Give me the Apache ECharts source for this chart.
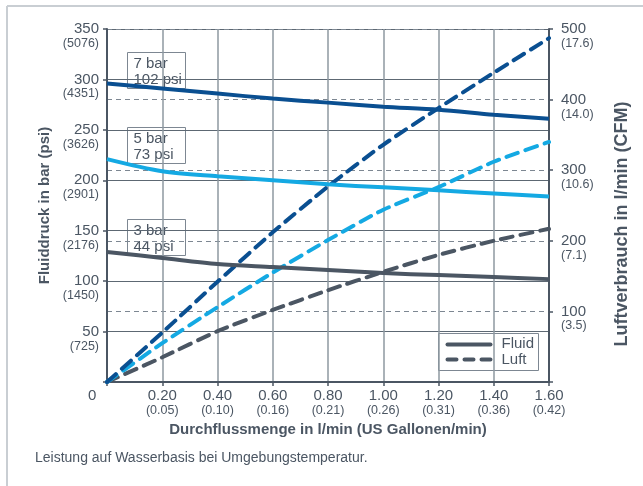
<!DOCTYPE html>
<html>
<head>
<meta charset="utf-8">
<script src="https://cdn.jsdelivr.net/npm/echarts@6/dist/echarts.min.js"></script>
<style>
  html, body { margin: 0; padding: 0; background: #fff; }
  #chart { width: 643px; height: 486px; }
</style>
</head>
<body>
<div id="chart"></div>
<script>
// Durchfluss (l/min) und Tick-Beschriftungen
var flow = [0, 0.2, 0.4, 0.6, 0.8, 1.0, 1.2, 1.4, 1.6];
var gallonLabels = ['', '(0.05)', '(0.10)', '(0.16)', '(0.21)', '(0.26)', '(0.31)', '(0.36)', '(0.42)'];
var psiLabels = ['', '(725)', '(1450)', '(2176)', '(2901)', '(3626)', '(4351)', '(5076)'];
var cfmLabels = ['', '(3.5)', '(7.1)', '(10.6)', '(14.0)', '(17.6)'];

// Fluiddruck in bar (linke Achse)
var fluid7 = [296, 291, 286, 281, 277, 273, 270, 265, 261];
var fluid5 = [221, 209, 204, 200, 196, 193, 190, 187, 184];
var fluid3 = [129, 123, 117, 114, 111, 108, 106, 104, 102];

// Luftverbrauch in l/min (rechte Achse)
var luft7 = [0, 70, 142, 212, 277, 336, 388, 438, 487];
var luft5 = [0, 55, 106, 155, 201, 244, 276, 312, 340];
var luft3 = [0, 35, 72, 102, 130, 156, 180, 200, 217];

var cNavy = '#0a4f91';
var cLight = '#14a9e3';
var cGray = '#4b5663';
var txt = '#4b5663';

function pairs(vals) {
  return flow.map(function (x, i) { return [x, vals[i]]; });
}

function fluidSeries(name, vals, color) {
  return {
    name: name, type: 'line', yAxisIndex: 0, data: pairs(vals),
    smooth: 0.3, symbol: 'none',
    lineStyle: { color: color, width: 4 }, z: 5
  };
}
function luftSeries(name, vals, color) {
  return {
    name: name, type: 'line', yAxisIndex: 1, data: pairs(vals),
    smooth: 0.2, symbol: 'none',
    lineStyle: { color: color, width: 4, type: [12, 8], cap: 'round' }, z: 4
  };
}

function box(x, y, l1, l2) {
  return {
    type: 'group', left: x, top: y, z: 20,
    children: [
      { type: 'rect', shape: { x: 0, y: 0, width: 58, height: 36 },
        style: { fill: '#fff', stroke: '#7d8792', lineWidth: 1 } },
      { type: 'text', left: 6, top: 3,
        style: { text: l1 + '\n' + l2, font: '15px "Liberation Sans", Arial', fill: txt, lineHeight: 16 } }
    ]
  };
}

var chart = echarts.init(document.getElementById('chart'));
chart.setOption({
  animation: false,
  backgroundColor: '#fff',
  textStyle: { fontFamily: '"Liberation Sans", Arial, sans-serif' },
  grid: { left: 107, right: 94, top: 29, bottom: 104 },
  xAxis: {
    type: 'value', min: 0, max: 1.6, interval: 0.2,
    name: 'Durchflussmenge in l/min (US Gallonen/min)',
    nameLocation: 'middle', nameGap: 36,
    nameTextStyle: { fontSize: 15, fontWeight: 'bold', color: txt },
    axisLine: { lineStyle: { color: cGray, width: 2 } },
    axisTick: { show: true, length: 4, lineStyle: { color: cGray, width: 1.5 } },
    axisLabel: {
      margin: 5,
      formatter: function (v) {
        var i = Math.round(v / 0.2);
        if (i === 0) return '';
        return '{a|' + v.toFixed(2) + '}\n{b|' + gallonLabels[i] + '}';
      },
      rich: {
        a: { fontSize: 15, color: txt, lineHeight: 17 },
        b: { fontSize: 12.5, color: txt, lineHeight: 13 }
      }
    },
    splitLine: { show: true, lineStyle: { color: '#8e98a1', width: 1.5 } }
  },
  yAxis: [
    {
      type: 'value', min: 0, max: 350, interval: 50, position: 'left',
      name: 'Fluiddruck in bar (psi)', nameLocation: 'middle', nameGap: 55,
      nameTextStyle: { fontSize: 15, fontWeight: 'bold', color: txt },
      axisLine: { show: true, lineStyle: { color: cGray, width: 2 } },
      axisTick: { show: true, length: 4, lineStyle: { color: cGray, width: 1.5 } },
      axisLabel: {
        margin: 8,
        formatter: function (v) {
          var i = Math.round(v / 50);
          if (i === 0) return '';
          return '{e|}\n{a|' + v + '}\n{b|' + psiLabels[i] + '}';
        },
        rich: {
          e: { height: 13, lineHeight: 13 },
          a: { fontSize: 15, color: txt, lineHeight: 16, align: 'right' },
          b: { fontSize: 12.5, color: txt, lineHeight: 13, align: 'right' }
        }
      },
      splitLine: { show: true, lineStyle: { color: '#5d6873', width: 1 } }
    },
    {
      type: 'value', min: 0, max: 500, interval: 100, position: 'right',
      name: 'Luftverbrauch in l/min (CFM)', nameLocation: 'middle', nameGap: 64,
      nameRotate: 90,
      nameTextStyle: { fontSize: 18, fontWeight: 'bold', color: txt, padding: [0, 37, 0, 0] },
      axisLine: { show: true, lineStyle: { color: cGray, width: 2 } },
      axisTick: { show: true, length: 4, lineStyle: { color: cGray, width: 1.5 } },
      axisLabel: {
        margin: 12,
        formatter: function (v) {
          var i = Math.round(v / 100);
          if (i === 0) return '';
          return '{e|}\n{a|' + v + '}\n{b|' + cfmLabels[i] + '}';
        },
        rich: {
          e: { height: 13, lineHeight: 13 },
          a: { fontSize: 15, color: txt, lineHeight: 16, align: 'left' },
          b: { fontSize: 12.5, color: txt, lineHeight: 13, align: 'left' }
        }
      },
      splitLine: { show: true, lineStyle: { color: '#7d8792', width: 1, type: [5, 4] } }
    }
  ],
  series: [
    luftSeries('Luft 3 bar', luft3, cGray),
    luftSeries('Luft 5 bar', luft5, cLight),
    luftSeries('Luft 7 bar', luft7, cNavy),
    fluidSeries('Fluid 7 bar', fluid7, cNavy),
    fluidSeries('Fluid 5 bar', fluid5, cLight),
    fluidSeries('Fluid 3 bar', fluid3, cGray)
  ],
  graphic: [
    // Rahmen
    { type: 'line', shape: { x1: 7, y1: 6, x2: 643, y2: 6 }, style: { stroke: '#c9ced3', lineWidth: 2 } },
    { type: 'line', shape: { x1: 7, y1: 6, x2: 7, y2: 486 }, style: { stroke: '#c9ced3', lineWidth: 2 } },
    // Ursprung
    { type: 'text', left: 88, top: 388, style: { text: '0', font: '15px "Liberation Sans", Arial', fill: txt } },
    box(127, 52, '7 bar', '102 psi'),
    box(127, 127, '5 bar', '73 psi'),
    box(127, 219, '3 bar', '44 psi'),
    // Legende
    {
      type: 'group', left: 438, top: 333, z: 20,
      children: [
        { type: 'rect', shape: { x: 0, y: 0, width: 100, height: 37 },
          style: { fill: '#fff', stroke: '#7d8792', lineWidth: 1 } },
        { type: 'line', shape: { x1: 9, y1: 11, x2: 52, y2: 11 },
          style: { stroke: cGray, lineWidth: 4, lineCap: 'round' } },
        { type: 'line', shape: { x1: 9, y1: 26, x2: 52, y2: 26 },
          style: { stroke: cGray, lineWidth: 4, lineDash: [9, 8], lineCap: 'round' } },
        { type: 'text', left: 63, top: 3,
          style: { text: 'Fluid\nLuft', font: '15px "Liberation Sans", Arial', fill: txt, lineHeight: 15.5 } }
      ]
    },
    // Fußnote
    { type: 'text', left: 35, top: 451,
      style: { text: 'Leistung auf Wasserbasis bei Umgebungstemperatur.', font: '14px "Liberation Sans", Arial', fill: txt } }
  ]
});
</script>
</body>
</html>
